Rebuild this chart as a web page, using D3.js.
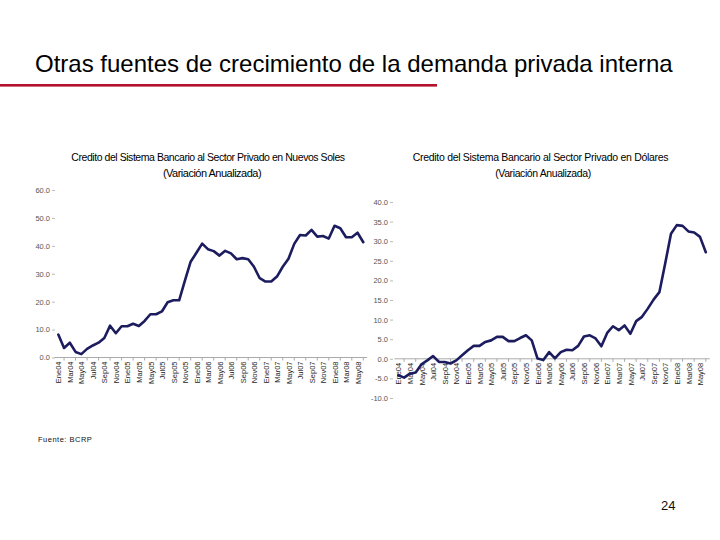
<!DOCTYPE html>
<html><head><meta charset="utf-8">
<script src="https://cdn.jsdelivr.net/npm/d3@7"></script>
<style>
body{margin:0;background:#fff;}
svg{display:block;font-family:"Liberation Sans",Arial,sans-serif;}
</style></head>
<body>
<svg id="c" width="720" height="540"></svg>
<script>
// ---- data ----
const mesesAbrev = ["Ene","Feb","Mar","Abr","May","Jun","Jul","Ago","Sep","Oct","Nov","Dic"];
const anios = ["04","05","06","07","08"];
const months = [];
anios.forEach(a => mesesAbrev.forEach(m => months.push(m + a)));
months.splice(54); // Ene04 .. Jun08
const labelMonths = months.filter((m, i) => i % 2 === 0);

const solesValues = [8.2,3.4,5.3,2.0,1.2,3.1,4.3,5.3,7.0,11.4,
  8.7,11.2,11.2,12.1,11.3,13.1,15.5,15.5,16.5,19.8,
  20.5,20.5,27.5,34.3,37.5,40.8,38.8,38.1,36.5,38.2,
  37.3,35.2,35.6,35.2,32.5,28.4,27.2,27.2,29.0,32.5,
  35.4,40.7,43.9,43.7,45.7,43.3,43.5,42.6,47.2,46.3,
  43.1,43.1,44.7,41.3];
const dolaresValues = [-4.2,-4.8,-3.8,-3.5,-1.4,-0.4,0.7,-0.8,-0.8,-1.2,
  -0.4,0.9,2.2,3.3,3.3,4.3,4.7,5.6,5.6,4.5,
  4.5,5.3,6.0,4.7,0.05,-0.3,1.7,0.1,1.7,2.3,
  2.2,3.3,5.7,6.0,5.2,3.2,6.6,8.3,7.3,8.5,
  6.4,9.6,10.7,12.8,15.1,17.0,24.3,31.9,34.1,33.9,
  32.5,32.2,31.1,27.2];
const solesTicks = [0,10,20,30,40,50,60];
const dolaresTicks = [-10,-5,0,5,10,15,20,25,30,35,40];

const pageTitle = "Otras fuentes de crecimiento de la demanda privada interna";
const solesTitle = ["Credito del Sistema Bancario al Sector Privado en Nuevos Soles","(Variación Anualizada)"];
const dolaresTitle = ["Credito del Sistema Bancario al Sector Privado en Dólares","(Variación Anualizada)"];
const fuente = "Fuente: BCRP";
const pageNum = "24";

// ---- drawing ----
const svg = d3.select("#c");

svg.append("text").attr("x", 35).attr("y", 72)
  .attr("font-size", 24).attr("fill", "#000").text(pageTitle);
svg.append("rect").attr("x", 0).attr("y", 84).attr("width", 437).attr("height", 2.6).attr("fill", "#b3122e");

function drawChart(cfg) {
  const g = svg.append("g");
  const x = d3.scalePoint().domain(months).range(cfg.xRange);
  const y = d3.scaleLinear().domain(cfg.yDomain).range(cfg.yRange);

  // titles
  cfg.title.forEach((t, i) => {
    g.append("text").attr("x", cfg.titleX[i]).attr("y", cfg.titleY[i])
      .attr("text-anchor", "middle").attr("font-size", cfg.titleSize[i])
      .attr("letter-spacing", cfg.titleSpacing[i])
      .attr("fill", "#000").text(t);
  });

  // y axis
  const ya = g.append("g").attr("transform", `translate(${cfg.yAxisX},0)`)
    .call(d3.axisLeft(y).tickValues(cfg.ticks).tickSize(3).tickPadding(2).tickFormat(d => d.toFixed(1)));
  ya.select(".domain").remove();
  ya.selectAll("line").attr("stroke", "#bbb");
  ya.selectAll("text").attr("font-size", 7.5).attr("fill", "#555").attr("font-family", "Liberation Sans, Arial, sans-serif");

  // x axis at zero
  const y0 = y(0);
  const step = x.step();
  const xa = g.append("g").attr("transform", `translate(0,${y0})`)
    .call(d3.axisBottom(x).tickValues(labelMonths).tickSize(0).tickPadding(0));
  xa.select(".domain").attr("d", `M${cfg.xRange[0] - step / 2 - 1},0H${cfg.xRange[1] + step / 2 + 1}`).attr("stroke", "#aaa");
  xa.selectAll(".tick text")
    .attr("transform", "rotate(-90)")
    .attr("text-anchor", "end").attr("x", -4).attr("y", 0).attr("dy", "0.35em")
    .attr("font-size", 7.5).attr("fill", "#222").attr("font-family", "Liberation Sans, Arial, sans-serif");
  months.forEach((m, i) => {
    if (i % 2 === 1) {
      xa.append("line").attr("x1", x(m)).attr("x2", x(m)).attr("y1", 0).attr("y2", 3).attr("stroke", "#aaa");
    }
  });

  // line
  const line = d3.line().x((d, i) => x(months[i])).y(d => y(d));
  g.append("path").datum(cfg.values).attr("d", line)
    .attr("fill", "none").attr("stroke", "#1c1c5f").attr("stroke-width", 2.6)
    .attr("stroke-linejoin", "round").attr("stroke-linecap", "round");
}

drawChart({
  xRange: [58.3, 363.3], yDomain: [0, 60], yRange: [357.5, 190],
  ticks: solesTicks, values: solesValues, yAxisX: 55,
  title: solesTitle, titleX: [208, 212], titleY: [160.5, 177],
  titleSize: [10.5, 11], titleSpacing: [-0.45, -0.5]
});
drawChart({
  xRange: [398.3, 705.8], yDomain: [-10, 40], yRange: [398, 202],
  ticks: dolaresTicks, values: dolaresValues, yAxisX: 393,
  title: dolaresTitle, titleX: [540.5, 543], titleY: [160.5, 177],
  titleSize: [10.5, 10.5], titleSpacing: [-0.3, -0.4]
});

svg.append("text").attr("x", 38).attr("y", 442).attr("font-size", 7.5)
  .attr("letter-spacing", 0.5).attr("fill", "#111").text(fuente);
svg.append("text").attr("x", 661).attr("y", 510).attr("font-size", 13)
  .attr("fill", "#111").text(pageNum);
</script>
</body></html>
